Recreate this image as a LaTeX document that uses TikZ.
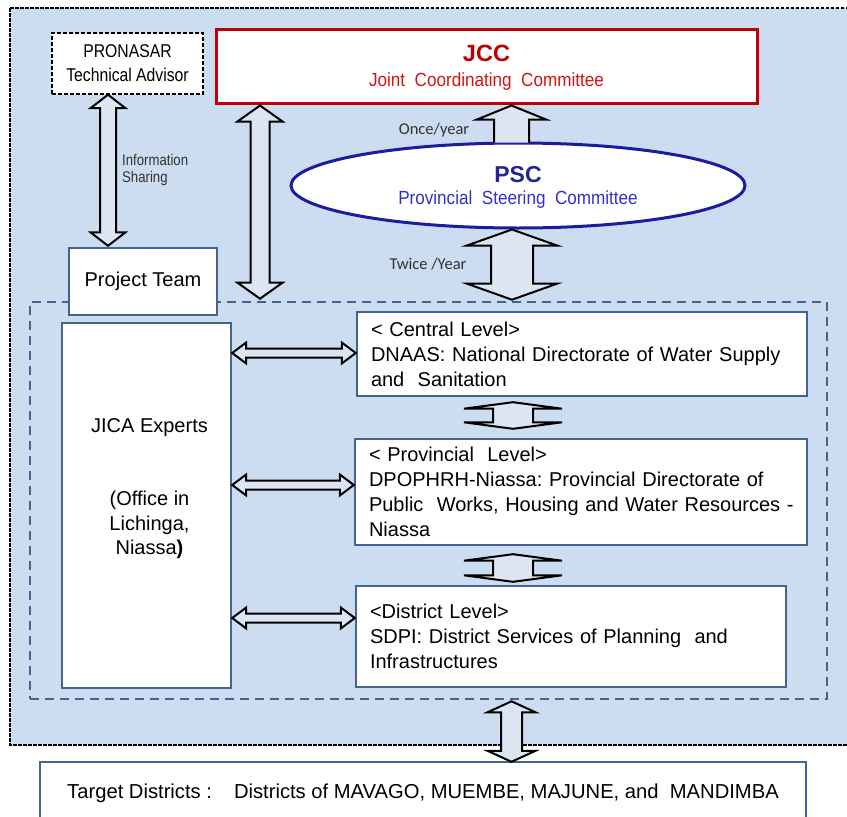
\documentclass[tikz,border=0pt]{standalone}
\usepackage{fontspec}
\setmainfont{Liberation Sans}
\newfontfamily\narrowA[FakeStretch=0.85]{Liberation Sans}
\newfontfamily\narrowB[FakeStretch=0.9]{Liberation Sans}
\newfontfamily\calib{Carlito}
\frenchspacing
\usetikzlibrary{calc,shapes.geometric}
\definecolor{bgblue}{RGB}{205,221,241}
\definecolor{arrowfill}{RGB}{220,230,242}
\definecolor{boxline}{RGB}{65,100,145}
\definecolor{jccred}{RGB}{192,0,0}
\definecolor{jccsub}{RGB}{210,20,20}
\definecolor{pscblue}{RGB}{28,28,160}
\definecolor{psctitle}{RGB}{36,36,150}
\definecolor{pscsub}{RGB}{50,50,200}
\definecolor{labgray}{RGB}{50,50,50}
\tikzset{
  boxnode/.style={draw=boxline, line width=2.4pt, fill=white, inner sep=0pt},
  barrow/.style={draw=black, line width=2pt, fill=arrowfill, line join=miter},
  lvltext/.style={font=\fontsize{20}{25}\selectfont, align=left, inner xsep=14pt, inner ysep=0pt},
  smalllab/.style={font=\calib\fontsize{16.5}{20}\selectfont, text=labgray, inner sep=0pt},
}
% vertical double block arrow: #1 top point, #2 bottom point, #3 shaft half width, #4 head half width, #5 head length
\newcommand\vdarrow[5]{\draw[barrow] let \p1=#1, \p2=#2 in
  (\x1,\y1) -- ({\x1+#4pt},{\y1-#5pt}) -- ({\x1+#3pt},{\y1-#5pt}) -- ({\x1+#3pt},{\y2+#5pt})
  -- ({\x1+#4pt},{\y2+#5pt}) -- (\x1,\y2) -- ({\x1-#4pt},{\y2+#5pt}) -- ({\x1-#3pt},{\y2+#5pt})
  -- ({\x1-#3pt},{\y1-#5pt}) -- ({\x1-#4pt},{\y1-#5pt}) -- cycle;}
% horizontal double block arrow: #1 left point, #2 right point
\newcommand\hdarrow[5]{\draw[barrow] let \p1=#1, \p2=#2 in
  (\x1,\y1) -- ({\x1+#5pt},{\y1+#4pt}) -- ({\x1+#5pt},{\y1+#3pt}) -- ({\x2-#5pt},{\y1+#3pt})
  -- ({\x2-#5pt},{\y1+#4pt}) -- (\x2,\y1) -- ({\x2-#5pt},{\y1-#4pt}) -- ({\x2-#5pt},{\y1-#3pt})
  -- ({\x1+#5pt},{\y1-#3pt}) -- ({\x1+#5pt},{\y1-#4pt}) -- cycle;}
% single up block arrow, open at the bottom
\newcommand\uparrowblk[5]{%
  \fill[arrowfill] let \p1=#1, \p2=#2 in (\x1,\y1) -- ({\x1+#4pt},{\y1-#5pt}) -- ({\x1+#3pt},{\y1-#5pt})
  -- ({\x1+#3pt},{\y2-1pt}) -- ({\x1-#3pt},{\y2-1pt}) -- ({\x1-#3pt},{\y1-#5pt}) -- ({\x1-#4pt},{\y1-#5pt}) -- cycle;
  \draw[barrow,fill=none] let \p1=#1, \p2=#2 in ({\x1+#3pt},{\y2-1pt}) -- ({\x1+#3pt},{\y1-#5pt})
  -- ({\x1+#4pt},{\y1-#5pt}) -- (\x1,\y1) -- ({\x1-#4pt},{\y1-#5pt}) -- ({\x1-#3pt},{\y1-#5pt}) -- ({\x1-#3pt},{\y2-1pt});}

\begin{document}
\begin{tikzpicture}[x=1pt,y=-1pt]
\useasboundingbox (0,0) rectangle (847,817);
\clip (0,0) rectangle (847,817);

% outer shaded area
\draw[fill=bgblue, draw=black, line width=1.3pt, dash pattern=on 3.5pt off 1.5pt] (10,8) rectangle (880,745);

% inner dashed group
\node[draw=boxline, line width=2.6pt, dash pattern=on 9pt off 6pt, inner sep=0pt,
      minimum width=797pt, minimum height=397pt] (inner) at (428.5,500.5) {};

% boxes
\node[draw=black, line width=1.4pt, dash pattern=on 4pt off 2pt, fill=white, inner sep=0pt,
      minimum width=151pt, minimum height=61pt, align=center,
      font=\narrowA\fontsize{18.5}{24}\selectfont] (pron) at (127.5,63.5) {PRONASAR\\Technical Advisor};

\node[draw=jccred, line width=3pt, fill=white, inner sep=0pt,
      minimum width=541pt, minimum height=74pt] (jcc) at (486.5,66) {};
\node[text=jccred, font=\fontsize{23.5}{28}\selectfont\bfseries, inner sep=0pt] (jcct) at (486.5,53) {JCC};
\node[text=jccsub, font=\narrowB\fontsize{19}{23}\selectfont, inner sep=0pt] (jccs) at (486.5,82) {Joint\ \ Coordinating\ \ Committee};

\node[boxnode, minimum width=148pt, minimum height=67pt, font=\fontsize{20}{24}\selectfont] (team) at (143,281.5) {Project Team};

\node[boxnode, minimum width=169pt, minimum height=365pt] (jica) at (146.5,505.5) {};
\node[font=\fontsize{20}{24.5}\selectfont, align=center, inner sep=0pt] (jicat) at (149.5,488.5)
  {JICA Experts\\[49pt](Office in\\Lichinga,\\Niassa\textbf{)}};

\node[boxnode, lvltext, text width=422pt, minimum height=84pt] (central) at (582,354)
  {\mbox{<\ Central Level>}\\\mbox{DNAAS: National Directorate of Water Supply}\\\mbox{and\ \ Sanitation}};
\node[boxnode, lvltext, text width=424pt, minimum height=106pt] (prov) at (581,492)
  {\mbox{<\ Provincial\ \ Level>}\\\mbox{DPOPHRH-Niassa: Provincial Directorate of}\\\mbox{Public\ \ Works, Housing and Water Resources -}\\\mbox{Niassa}};
\node[boxnode, lvltext, text width=402pt, minimum height=101pt] (dist) at (571,636.5)
  {\mbox{<District Level>}\\\mbox{SDPI: District Services of Planning\ \ and}\\\mbox{Infrastructures}};

\node[boxnode, minimum width=766pt, minimum height=62pt, font=\fontsize{20.2}{24}\selectfont] (target) at (423,793)
  {Target Districts :\hspace{22pt}Districts of MAVAGO, MUEMBE, MAJUNE, and\ \ MANDIMBA};

\node[draw=pscblue, line width=3pt, fill=white, ellipse, inner sep=0pt,
      minimum width=454pt, minimum height=85pt] (psc) at (518,185.5) {};
\node[text=psctitle, font=\fontsize{23}{28}\selectfont\bfseries, inner sep=0pt] (psct) at (518,175) {PSC};
\node[text=pscsub, font=\narrowB\fontsize{19}{23}\selectfont, inner sep=0pt] (pscs) at (518,200) {Provincial\ \ Steering\ \ Committee};

% arrows
\uparrowblk{($(jcc.south)+(25,1)$)}{(psc.north)}{17.5}{34.5}{14}
\vdarrow{($(psc.south)+(-6,0)$)}{($(psc.south |- inner.north)+(-6,-1)$)}{21}{45}{16}
\vdarrow{($(jcc.south west)+(45.5,1)$)}{($(jcc.south west |- inner.north)+(45.5,-2)$)}{9.5}{22.5}{16}
\vdarrow{($(pron.south)+(-19.5,0)$)}{($(team.north)+(-35,-1)$)}{8}{17.5}{13.5}
\vdarrow{($(central.south)+(-69,5)$)}{($(prov.north)+(-68,-9)$)}{20}{49}{6.5}
\vdarrow{($(prov.south)+(-68,8)$)}{($(dist.north)+(-58,-3)$)}{20}{49}{6.5}
\vdarrow{($(inner.south)+(83,1)$)}{($(target.north)+(88.5,1)$)}{10.5}{24}{11}
\hdarrow{($(jica.east |- central.west)+(0,-1)$)}{($(central.west)+(0,-1)$)}{4.5}{10.5}{14}
\hdarrow{($(jica.east |- prov.west)+(0,-7)$)}{($(prov.west)+(0,-7)$)}{4.5}{10.5}{14}
\hdarrow{($(jica.east |- dist.west)+(0,-18.5)$)}{($(dist.west)+(0,-18.5)$)}{4.5}{10.5}{14}

% labels
\node[anchor=west, align=left, text=labgray, font=\narrowA\fontsize{15.5}{17}\selectfont, inner sep=0pt] (infolab) at (122,169.5) {Information\\Sharing};
\node[smalllab] (oncelab) at (434,130) {Once/year};
\node[smalllab] (twicelab) at (428,264) {Twice /Year};
\end{tikzpicture}
\end{document}
